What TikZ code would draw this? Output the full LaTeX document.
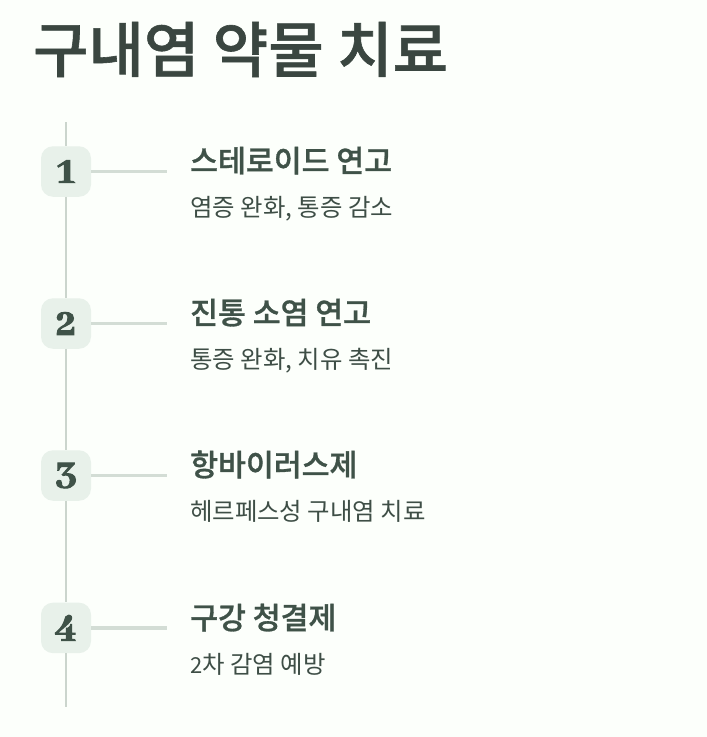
\documentclass[tikz,border=0pt]{standalone}
\usepackage{fontspec}
\setmainfont{Noto Sans CJK KR}
\newfontfamily\midfont[RawFeature={embolden=1}]{Noto Sans CJK KR Medium}
\newfontfamily\numfont[RawFeature={embolden=2.5}]{Abhaya Libre ExtraBold}
\usepackage{tikz}

\definecolor{pagebg}{HTML}{FCFFFB}
\definecolor{titleink}{HTML}{3A4640}
\definecolor{headink}{HTML}{3F5248}
\definecolor{subink}{HTML}{3E4E46}
\definecolor{boxfill}{HTML}{E8F1EA}
\definecolor{spineline}{HTML}{CBD5CD}
\definecolor{branchline}{HTML}{D3DDD5}

\tikzset{
    x=1pt,y=-1pt,
    numbox/.style={fill=boxfill,rounded corners=12pt,minimum width=50pt,minimum height=50.5pt,inner sep=0pt,text=headink,font=\numfont\fontsize{42}{42}\selectfont},
    headtext/.style={anchor=base west,inner sep=0pt,text=headink,font=\midfont\fontsize{30.3}{30}\selectfont},
    subtext/.style={anchor=base west,inner sep=0pt,text=subink,font=\fontsize{24.4}{24}\selectfont},
    spine/.style={draw=spineline,line width=2pt},
    branch/.style={draw=branchline,line width=2.6pt}
}

\begin{document}
\begin{tikzpicture}
            \useasboundingbox[fill=pagebg] (0,0) rectangle (707,737);
            \node[anchor=base west,inner sep=0pt,text=titleink,font=\midfont\fontsize{60.2}{60}\selectfont] (title) at (33,72) {구내염 약물 치료};

            \coordinate (spinetop) at (66,122);
            \coordinate (spineend) at (66,707);
            \node[numbox] (num1) at (66,171.5) {1};
            \node[numbox] (num2) at (66,323.5) {2};
            \node[numbox] (num3) at (66,475.5) {3};
            \node[numbox] (num4) at (66,627.9) {4};

            \draw[spine] (spinetop) -- (num1);
            \draw[spine] (num1) -- (num2);
            \draw[spine] (num2) -- (num3);
            \draw[spine] (num3) -- (num4);
            \draw[spine] (num4) -- (spineend);

            \coordinate (tip1) at (167,171.5);
            \coordinate (tip2) at (167,323.5);
            \coordinate (tip3) at (167,475.5);
            \coordinate (tip4) at (167,627.9);
            \draw[branch] (num1) -- (tip1);
            \draw[branch] (num2) -- (tip2);
            \draw[branch] (num3) -- (tip3);
            \draw[branch,line width=3.4pt] (num4) -- (tip4);

            \node[headtext] (head1) at (190,172) {스테로이드 연고};
            \node[subtext] (sub1) at (190,216) {염증 완화, 통증 감소};
            \node[headtext] (head2) at (190,324) {진통 소염 연고};
            \node[subtext] (sub2) at (190,368) {통증 완화, 치유 촉진};
            \node[headtext] (head3) at (190,476) {항바이러스제};
            \node[subtext] (sub3) at (190,520) {헤르페스성 구내염 치료};
            \node[headtext] (head4) at (190,629) {구강 청결제};
            \node[subtext] (sub4) at (190,673) {\fontsize{22}{22}\selectfont 2\fontsize{24.4}{24}\selectfont 차 감염 예방};
\end{tikzpicture}
\end{document}
